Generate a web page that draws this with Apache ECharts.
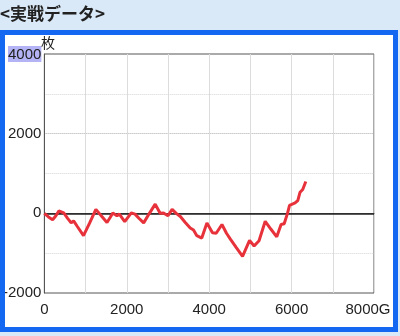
<!DOCTYPE html>
<html><head><meta charset="utf-8">
<script src="https://cdn.jsdelivr.net/npm/echarts@6/dist/echarts.min.js"></script>
<style>html,body{margin:0;padding:0;background:#d9e9f7;}#c{width:400px;height:336px;}</style>
</head><body><div id="c"></div>
<script>
var titleText = '<実戦データ>';
var yUnit = '枚';
var games = [0,100,200,280,350,470,560,650,710,800,950,1100,1250,1380,1520,1600,1660,1760,1820,1950,2110,2200,2300,2410,2550,2690,2810,2890,3000,3100,3200,3300,3420,3540,3620,3700,3820,3945,4080,4170,4310,4420,4510,4650,4810,4980,5090,5210,5360,5500,5640,5745,5820,5900,5950,6085,6150,6206,6270,6345];
var medals = [0,-90,-160,-60,60,10,-120,-240,-190,-330,-560,-240,100,-60,-230,-100,10,-60,-20,-210,10,-20,-130,-240,0,230,0,10,-60,100,0,-80,-230,-370,-420,-560,-620,-240,-490,-500,-280,-500,-640,-850,-1080,-680,-820,-690,-200,-400,-590,-280,-260,0,200,260,320,530,600,800];
var xTicks = {0:'0',2000:'2000',4000:'4000',6000:'6000',8000:'8000G'};
var yTicks = {'-2000':'-2000',0:'0',2000:'2000',4000:'4000'};

var data = games.map(function(g,i){return [g, medals[i]];});
var chart = echarts.init(document.getElementById('c'), null, {renderer:'canvas'});
var font = '"Liberation Sans", Arial, sans-serif';
var fs = 15;
chart.setOption({
  animation:false,
  backgroundColor:'#d9e9f7',
  graphic:[
    {type:'rect', shape:{x:0,y:30,width:398,height:302}, style:{fill:'#fff'}, z:-10, silent:true},
    {type:'rect', shape:{x:2.5,y:32.5,width:393,height:297}, style:{fill:'none', stroke:'#1467f0', lineWidth:5}, z:100, silent:true},
    {type:'text', left:0, top:5, style:{text:titleText, font:'bold 17px "Noto Sans CJK JP", sans-serif', fill:'#222'}, z:100},
    {type:'text', left:41, top:36, style:{text:yUnit, font:'14px "Noto Sans CJK JP", sans-serif', fill:'#222'}, z:100}
  ],
  grid:{left:44, right:26, top:54, bottom:43, show:true, borderColor:'#555', borderWidth:1, backgroundColor:'transparent'},
  xAxis:{type:'value', min:0, max:8000, interval:1000,
    axisLine:{show:true, lineStyle:{color:'#555', width:1}}, axisTick:{show:false},
    axisLabel:{margin:9, color:'#222', fontSize:fs, fontFamily:font, showMaxLabel:true,
      formatter:function(v){var t=xTicks[v]; if(!t) return ''; return v===8000?'{r|'+t+'}':t;},
      rich:{r:{fontSize:fs, fontFamily:font, color:'#222', padding:[0,12,0,0]}}},
    splitLine:{show:true, lineStyle:{color:'#dcdcdc', width:1}}},
  yAxis:{type:'value', min:-2000, max:4000, interval:1000,
    axisLine:{show:true, lineStyle:{color:'#555', width:1}}, axisTick:{show:false},
    axisLabel:{margin:3, color:'#222', fontSize:fs, fontFamily:font, showMaxLabel:true, showMinLabel:true,
      formatter:function(v){var t=yTicks[v]; if(t===undefined) return ''; return v===4000?'{h|'+t+'}':t;},
      rich:{h:{fontSize:fs, fontFamily:font, color:'#222', backgroundColor:'#b3b3f5', padding:[1,0,0,0]}}},
    splitLine:{show:true, lineStyle:{color:['#aaa','#d5d5d5','#aaa','#d5d5d5','#aaa','#d5d5d5','#aaa'], width:1, type:'dotted'}}},
  series:[{type:'line', data:data, showSymbol:false, symbol:'none',
    lineStyle:{color:'#e8323b', width:3}, z:5,
    markLine:{silent:true, symbol:'none', label:{show:false}, lineStyle:{color:'#222', width:1.5, type:'solid'}, data:[{yAxis:0}], z:3}
  }]
});
</script></body></html>
